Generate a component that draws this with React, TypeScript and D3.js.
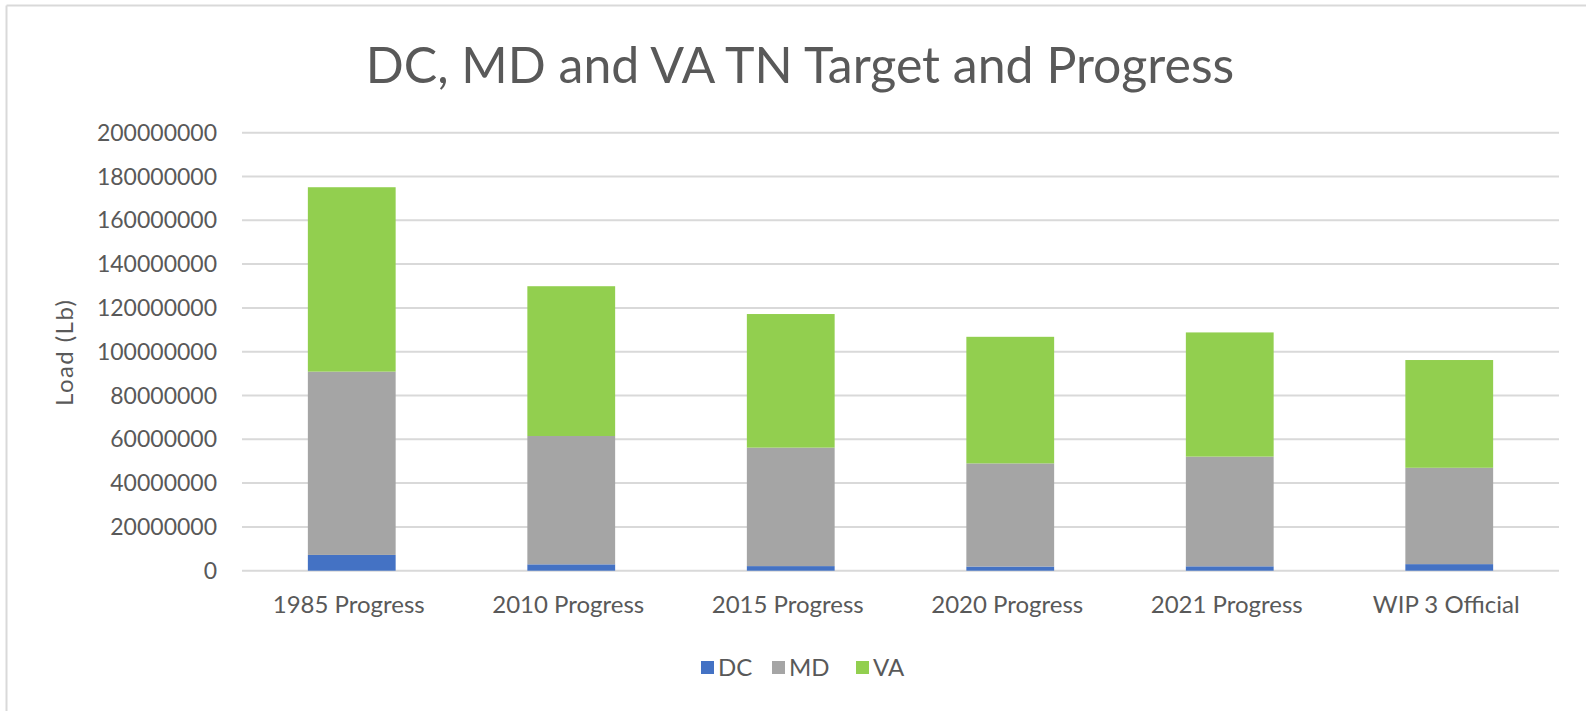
import React from "react";
import * as d3 from "d3";

const categories = ["1985 Progress", "2010 Progress", "2015 Progress", "2020 Progress", "2021 Progress", "WIP 3 Official"];
const seriesNames = ["DC", "MD", "VA"];
const dcValues = [7200000, 2900000, 2100000, 1900000, 2000000, 3000000];
const mdValues = [83700000, 58600000, 54100000, 47100000, 50100000, 44000000];
const vaValues = [84200000, 68400000, 61000000, 57800000, 56700000, 49200000];
const yTicks = [0, 20000000, 40000000, 60000000, 80000000, 100000000, 120000000, 140000000, 160000000, 180000000, 200000000];
const colors = ["#4472C4", "#A5A5A5", "#92CF4F"];

const W = 1586;
const H = 711;
const FONT = "Lato, 'Open Sans', sans-serif";
const TEXT = "#595959";

export default function App() {
  const rows = categories.map((c, i) => ({ cat: c, DC: dcValues[i], MD: mdValues[i], VA: vaValues[i] }));
  const stack = d3.stack<any>().keys(seriesNames)(rows);

  const x = d3.scaleBand().domain(categories).range([242, 1559]).paddingInner(0.6).paddingOuter(0.3);
  const y = d3.scaleLinear().domain([0, 200000000]).range([570.7, 132.7]);

  const legendItems = [
    { name: "DC", x: 701 },
    { name: "MD", x: 772 },
    { name: "VA", x: 856 },
  ];

  return (
    <svg width={W} height={H} style={{ position: "absolute", left: 0, top: 0, background: "#fff" }}>
      <rect x={0} y={0} width={W} height={H} fill="#fff" />
      <line x1={6.5} y1={5.5} x2={W} y2={5.5} stroke="#d9d9d9" strokeWidth={2} />
      <line x1={6.5} y1={5.5} x2={6.5} y2={H} stroke="#d9d9d9" strokeWidth={2} />

      <text x={800} y={83} textAnchor="middle" fontFamily={FONT} fontSize={50} fill={TEXT}>
        DC, MD and VA TN Target and Progress
      </text>

      {yTicks.map((t) => (
        <g key={t}>
          <line x1={242} x2={1559} y1={y(t)} y2={y(t)} stroke="#d9d9d9" strokeWidth={2} />
          <text x={217} y={y(t)} dy="0.35em" textAnchor="end" fontFamily={FONT} fontSize={23} fill={TEXT}>
            {t}
          </text>
        </g>
      ))}

      <text
        transform={`translate(65,353) rotate(-90)`}
        textAnchor="middle"
        dy="0.35em"
        fontFamily={FONT}
        fontSize={24}
        textLength={106}
        lengthAdjust="spacing"
        fill={TEXT}
      >
        Load (Lb)
      </text>

      {stack.map((s, si) => (
        <g key={s.key} fill={colors[si]}>
          {s.map((d, i) => (
            <rect
              key={i}
              x={x(categories[i])}
              width={x.bandwidth()}
              y={y(d[1])}
              height={y(d[0]) - y(d[1])}
            />
          ))}
        </g>
      ))}

      {categories.map((c) => (
        <text
          key={c}
          x={(x(c) as number) + x.bandwidth() / 2 - 3}
          y={613}
          textAnchor="middle"
          fontFamily={FONT}
          fontSize={24}
          fill={TEXT}
        >
          {c}
        </text>
      ))}

      {legendItems.map((l, i) => (
        <g key={l.name}>
          <rect x={l.x} y={661} width={13} height={13} fill={colors[i]} />
          <text x={l.x + 17} y={667.5} dy="0.36em" fontFamily={FONT} fontSize={24} fill={TEXT}>
            {l.name}
          </text>
        </g>
      ))}
    </svg>
  );
}
